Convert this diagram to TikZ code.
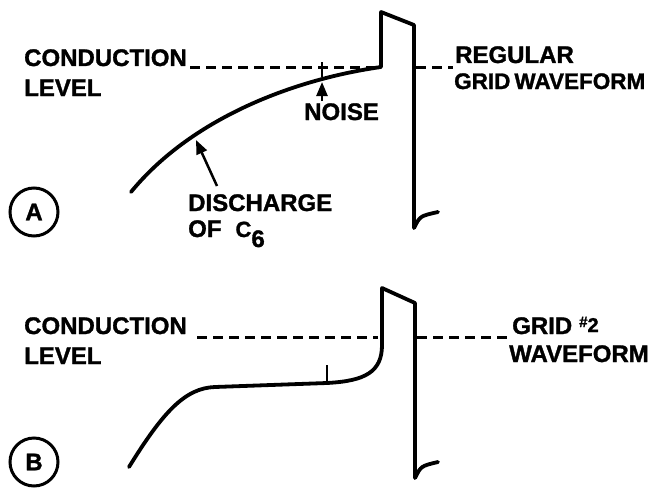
\documentclass[tikz,border=0pt]{standalone}
\usepackage{fontspec}
\newfontfamily\lblfont{Liberation Sans Bold}[FakeBold=1.3]
\usetikzlibrary{arrows.meta}
\begin{document}
\begin{tikzpicture}[x=1pt,y=-1pt,
  wave/.style={line width=3.8pt, line join=round, line cap=round},
  lvl/.style={line width=3pt, dash pattern=on 10pt off 6pt},
  lbl/.style={anchor=base west, inner sep=0pt, font=\fontsize{24}{28}\selectfont\lblfont},
  ptr/.style={line width=2.5pt, -{Triangle[length=14pt,width=11pt]}},
  tick/.style={line width=2.5pt},
  tag/.style={circle, draw, line width=3pt, minimum size=48pt, inner sep=0pt, font=\fontsize{24}{28}\selectfont\lblfont}]
\useasboundingbox (0,0) rectangle (652,495);

% ---------- Panel A ----------
\node[lbl] (condA) at (24,66) {CONDUCTION};
\node[lbl] (levA) at (24,96) {LEVEL};
\node[lbl] (regA) at (455,63) {REGULAR};
\node[lbl, font=\fontsize{22.5}{26}\selectfont\lblfont] (gridA) at (454,89) {GRID\hspace{4pt}WAVEFORM};
\node[lbl] (noise) at (304,120) {NOISE};
\node[lbl] (dis) at (188,211) {DISCHARGE};
\node[lbl] (ofc) at (188,237) {OF\hspace{14pt}{\fontsize{22}{22}\selectfont\lblfont C}\raisebox{-10pt}{6}};
\node[tag] (tagA) at (34,212) {A};

\coordinate (cA0) at (131,192);
\coordinate (pA1) at (381,67);
\coordinate (pA2) at (381,12);
\coordinate (pA3) at (414,25);
\coordinate (pA4) at (414,228);
\coordinate (pA5) at (438,212);
\coordinate (dA1) at (190,67);
\coordinate (dA2) at (378,67);
\coordinate (dA3) at (416,67);
\coordinate (dA4) at (453,67);
\coordinate (nT1) at (322,62);
\coordinate (nT2) at (322,77);
\coordinate (nArT) at (322,101);
\coordinate (nArH) at (322,82);
\coordinate (dArT) at (217,186);
\coordinate (dArH) at (196,140);

\draw[lvl] (dA1) -- (dA2);
\draw[lvl] (dA3) -- (dA4);
\draw[wave] (cA0) .. controls (190,120) and (290,80) .. (pA1) -- (pA2) -- (pA3) -- (pA4) .. controls (420,216) .. (pA5);
\draw[tick] (nT1) -- (nT2);
\draw[ptr] (nArT) -- (nArH);
\draw[ptr] (dArT) -- (dArH);

% ---------- Panel B ----------
\node[lbl] (condB) at (24,334) {CONDUCTION};
\node[lbl] (levB) at (24,364) {LEVEL};
\node[lbl] (gridB) at (512,334) {GRID\hspace{7pt}\raisebox{7pt}{\fontsize{15}{15}\selectfont\lblfont\#}\raisebox{2pt}{\fontsize{20}{20}\selectfont\lblfont 2}};
\node[lbl] (waveB) at (509,362) {WAVEFORM};
\node[tag] (tagB) at (34,462) {B};

\coordinate (cB0) at (129,467);
\coordinate (cB1) at (215,387);
\coordinate (cB2) at (327,383);
\coordinate (cB3) at (382,345);
\coordinate (pB2) at (382,288);
\coordinate (pB3) at (415,303);
\coordinate (pB4) at (415,478);
\coordinate (pB5) at (438,462);
\coordinate (dB1) at (197,337);
\coordinate (dB2) at (378,337);
\coordinate (dB3) at (417,337);
\coordinate (dB4) at (508,337);
\coordinate (tB) at (327,365);

\draw[lvl] (dB1) -- (dB2);
\draw[lvl] (dB3) -- (dB4);
\draw[wave] (cB0) .. controls (163,412) and (185,388) .. (cB1) -- (cB2) .. controls (365,381) and (382,372) .. (cB3) -- (pB2) -- (pB3) -- (pB4) .. controls (421,466) .. (pB5);
\draw[tick] (cB2) -- (tB);
\end{tikzpicture}
\end{document}
